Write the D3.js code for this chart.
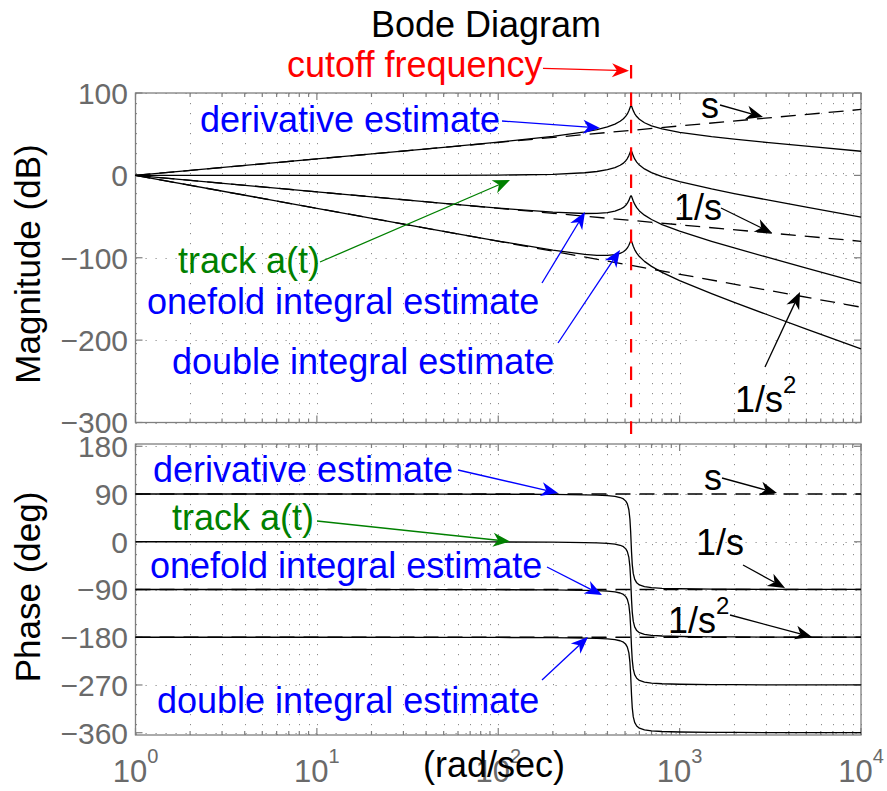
<!DOCTYPE html>
<html><head><meta charset="utf-8">
<script src="https://cdn.jsdelivr.net/npm/d3@7"></script>
<style>
body{margin:0;background:#fff}
svg{display:block}
text{font-family:"Liberation Sans",Arial,Helvetica,sans-serif}
</style>
</head><body>
<svg id="chart" width="887" height="791"></svg>
<script>
// ---------- data ----------
const freq = [1, 10, 50, 100, 200, 300, 350, 400, 440, 470, 490, 505, 515, 525, 532, 537, 540, 543, 548, 555, 565, 580, 600, 640, 700, 800, 1000, 1500, 2000, 3000, 5000, 10000];

const magDerivative = [0, 20, 34.1, 40.3, 47.3, 52.7, 55.6, 58.9, 62.3, 65.7, 68.7, 71.9, 74.6, 78.4, 81.8, 84.1, 84.6, 84.1, 81.9, 78.6, 75.0, 71.4, 68.1, 63.9, 60.2, 56.5, 52.3, 47.0, 43.9, 40.0, 35.4, 29.3];
const magTrack = [0, 0, 0.1, 0.3, 1.3, 3.2, 4.7, 6.9, 9.4, 12.3, 14.9, 17.8, 20.4, 24.0, 27.3, 29.5, 29.9, 29.4, 27.1, 23.7, 20.0, 16.1, 12.5, 7.8, 3.3, -1.6, -7.7, -16.5, -22.1, -29.5, -38.6, -50.7];
const magOnefold = [0, -20, -33.9, -39.7, -44.7, -46.3, -46.2, -45.1, -43.5, -41.1, -38.9, -36.3, -33.8, -30.4, -27.2, -25.1, -24.8, -25.3, -27.7, -31.2, -35.0, -39.2, -43.1, -48.3, -53.6, -59.7, -67.7, -80.0, -88.1, -99.0, -112.6, -130.7];
const magDouble = [0, -40, -67.9, -79.7, -90.7, -95.9, -97.1, -97.2, -96.3, -94.6, -92.7, -90.3, -88.1, -84.8, -81.7, -79.7, -79.4, -80.0, -82.5, -86.1, -90.1, -94.4, -98.6, -104.4, -110.5, -117.7, -127.7, -143.5, -154.1, -168.6, -186.6, -210.7];

const phaseDerivative = [90, 90, 89.8, 89.6, 89.2, 88.5, 87.9, 87.0, 85.6, 83.4, 80.7, 76.6, 71.4, 60.4, 43.0, 19.2, 0, -19.1, -42.6, -59.7, -70.5, -77.4, -81.4, -84.6, -86.5, -87.7, -88.6, -89.2, -89.5, -89.7, -89.8, -89.9];
const phaseTrack = [0, 0, -0.2, -0.4, -0.8, -1.5, -2.1, -3.0, -4.4, -6.6, -9.3, -13.4, -18.6, -29.6, -47.0, -70.8, -90, -109.1, -132.6, -149.7, -160.5, -167.4, -171.4, -174.6, -176.5, -177.7, -178.6, -179.2, -179.5, -179.7, -179.8, -179.9];
const phaseOnefold = [-90, -90, -90.2, -90.4, -90.8, -91.5, -92.1, -93.0, -94.4, -96.6, -99.3, -103.4, -108.6, -119.6, -137.0, -160.8, -180, -199.1, -222.6, -239.7, -250.5, -257.4, -261.4, -264.6, -266.5, -267.7, -268.6, -269.2, -269.5, -269.7, -269.8, -269.9];
const phaseDouble = [-180, -180, -180.2, -180.4, -180.8, -181.5, -182.1, -183.0, -184.4, -186.6, -189.3, -193.4, -198.6, -209.6, -227.0, -250.8, -270, -289.1, -312.6, -329.7, -340.5, -347.4, -351.4, -354.6, -356.5, -357.7, -358.6, -359.2, -359.5, -359.7, -359.8, -359.9];

// asymptotes (dashed)
const asymFreq = [1, 10000];
const magS = [0, 80];
const magInvS = [0, -80];
const magInvS2 = [0, -160];
const phaseS = [90, 90];
const phaseInvS = [-90, -90];
const phaseInvS2 = [-180, -180];

const cutoffFreq = 540;

const magTicks = [100, 0, -100, -200, -300];
const phaseTicks = [180, 90, 0, -90, -180, -270, -360];
const decadeTicks = [1, 10, 100, 1000, 10000];
const decadeExponents = ["0", "1", "2", "3", "4"];

// ---------- layout ----------
const svg = d3.select("#chart");
const W = 887, H = 791;
const left = 135.5, right = 861;
const magTop = 93, magBottom = 422.5;
const phTop = 444, phBottom = 735;

const x = d3.scaleLog().domain([1, 10000]).range([left, right]);
const yMag = d3.scaleLinear().domain([-300, 100]).range([magBottom, magTop]);
const yPh = d3.scaleLinear().domain([-364.3, 184.3]).range([phBottom, phTop]);

svg.append("rect").attr("width", W).attr("height", H).attr("fill", "#fff");

const minorTicks = [];
for (let d = 0; d < 4; d++) for (let m = 2; m <= 9; m++) minorTicks.push(m * Math.pow(10, d));

const gridColor = "#8c8c8c";
const boxColor = "#7f7f7f";
const tickLabelColor = "#6a6a6a";

function drawFrame(yScale, ticks, top, bottom) {
  const g = svg.append("g");
  const grid = g.append("g").attr("stroke", gridColor).attr("stroke-width", 1)
    .attr("stroke-dasharray", "1.2,8.8").attr("fill", "none");
  grid.selectAll("line.v").data(decadeTicks.concat(minorTicks)).join("line")
    .attr("x1", d => Math.round(x(d)) + 0.5).attr("x2", d => Math.round(x(d)) + 0.5)
    .attr("y1", top).attr("y2", bottom);
  grid.selectAll("line.h").data(ticks).join("line")
    .attr("x1", left).attr("x2", right)
    .attr("y1", d => Math.round(yScale(d)) + 0.5).attr("y2", d => Math.round(yScale(d)) + 0.5);
  const tk = g.append("g").attr("stroke", boxColor).attr("stroke-width", 1.2);
  tk.selectAll("line.xt").data(decadeTicks).join("line")
    .attr("x1", d => x(d)).attr("x2", d => x(d)).attr("y1", bottom).attr("y2", bottom - 7);
  tk.selectAll("line.xt2").data(decadeTicks).join("line")
    .attr("x1", d => x(d)).attr("x2", d => x(d)).attr("y1", top).attr("y2", top + 7);
  tk.selectAll("line.xm").data(minorTicks).join("line")
    .attr("x1", d => x(d)).attr("x2", d => x(d)).attr("y1", bottom).attr("y2", bottom - 4);
  tk.selectAll("line.xm2").data(minorTicks).join("line")
    .attr("x1", d => x(d)).attr("x2", d => x(d)).attr("y1", top).attr("y2", top + 4);
  tk.selectAll("line.yl").data(ticks).join("line")
    .attr("x1", left).attr("x2", left + 7).attr("y1", d => yScale(d)).attr("y2", d => yScale(d));
  tk.selectAll("line.yr").data(ticks).join("line")
    .attr("x1", right).attr("x2", right - 7).attr("y1", d => yScale(d)).attr("y2", d => yScale(d));
  g.append("rect").attr("x", left).attr("y", top).attr("width", right - left).attr("height", bottom - top)
    .attr("fill", "none").attr("stroke", boxColor).attr("stroke-width", 1.3);
  g.append("g").selectAll("text").data(ticks).join("text")
    .attr("x", 128).attr("y", d => yScale(d)).attr("dy", "0.36em")
    .attr("text-anchor", "end").attr("font-size", 30).attr("fill", tickLabelColor)
    .text(d => d < 0 ? "\u2212" + Math.abs(d) : String(d));
}

drawFrame(yMag, magTicks, magTop, magBottom);
drawFrame(yPh, phaseTicks, phTop, phBottom);

const xl = svg.append("g").attr("fill", tickLabelColor);
decadeTicks.forEach((d, i) => {
  const t = xl.append("text").attr("x", x(d)).attr("y", 782).attr("text-anchor", "middle").attr("font-size", 31);
  t.append("tspan").text("10");
  t.append("tspan").attr("dy", -19).attr("font-size", 20).text(decadeExponents[i]);
});

// ---------- curves ----------
function curve(xs, ys, yScale, dashed) {
  const pts = xs.map((f, i) => [x(f), yScale(ys[i])]);
  svg.append("path").attr("d", d3.line()(pts)).attr("fill", "none").attr("stroke", "#000")
    .attr("stroke-width", 1.3).attr("stroke-linejoin", "round")
    .attr("stroke-dasharray", dashed ? "15,9" : null);
}
[magDerivative, magTrack, magOnefold, magDouble].forEach(s => curve(freq, s, yMag, false));
[phaseDerivative, phaseTrack, phaseOnefold, phaseDouble].forEach(s => curve(freq, s, yPh, false));
[magS, magInvS, magInvS2].forEach(s => curve(asymFreq, s, yMag, true));
[phaseS, phaseInvS, phaseInvS2].forEach(s => curve(asymFreq, s, yPh, true));

svg.append("line").attr("x1", x(cutoffFreq)).attr("x2", x(cutoffFreq)).attr("y1", 65).attr("y2", 434)
  .attr("stroke", "#ff0000").attr("stroke-width", 2.2).attr("stroke-dasharray", "13.5,13.9");

// ---------- text ----------
function label(txt, xx, yy, color, opts = {}) {
  const t = svg.append("text").attr("x", xx).attr("y", yy).attr("fill", color)
    .attr("font-size", opts.size || 36).attr("text-anchor", opts.anchor || "start");
  if (opts.rotate) t.attr("transform", `rotate(-90,${xx},${yy})`);
  t.append("tspan").text(txt);
  if (opts.sup) t.append("tspan").attr("dy", -19).attr("font-size", 24).text(opts.sup);
  return t;
}
label("Bode Diagram", 486, 37, "#000", {anchor: "middle"});
label("cutoff frequency", 287, 77, "#ff0000");
label("Magnitude (dB)", 40, 264, "#000", {anchor: "middle", rotate: true, size: 35});
label("Phase (deg)", 40, 587, "#000", {anchor: "middle", rotate: true, size: 35});
label("(rad/sec)", 494, 777, "#000", {anchor: "middle"});

const blue = "#0000ff", green = "#008000", red = "#ff0000";
label("derivative estimate", 200, 132, blue);
label("track a(t)", 178, 273, green);
label("onefold integral estimate", 147, 314, blue);
label("double integral estimate", 172, 374, blue);
label("s", 701, 118, "#000");
label("1/s", 674, 220, "#000");
label("1/s", 735, 412, "#000", {sup: "2"});

label("derivative estimate", 153, 482, blue);
label("track a(t)", 172, 530, green);
label("onefold integral estimate", 150, 578, blue);
label("double integral estimate", 157, 713, blue);
label("s", 704, 490, "#000");
label("1/s", 696, 555, "#000");
label("1/s", 668, 633, "#000", {sup: "2"});

// ---------- arrows ----------
function arrow(x1, y1, x2, y2, color) {
  const a = Math.atan2(y2 - y1, x2 - x1);
  const L = 17, Wd = 7, N = 5;
  const ex = x2 - Math.cos(a) * (L - N), ey = y2 - Math.sin(a) * (L - N);
  svg.append("line").attr("x1", x1).attr("y1", y1).attr("x2", ex).attr("y2", ey)
    .attr("stroke", color).attr("stroke-width", 1.3);
  svg.append("path").attr("d", `M0,0L${-L},${-Wd}L${-L + N},0L${-L},${Wd}Z`)
    .attr("transform", `translate(${x2},${y2}) rotate(${a * 180 / Math.PI})`)
    .attr("fill", color);
}
arrow(543, 68.3, 629, 70.8, red);
arrow(502, 121, 600, 128, blue);
arrow(320, 262, 510, 180, green);
arrow(542, 283, 585, 212, blue);
arrow(558, 343, 620, 250, blue);
arrow(720, 105, 763, 117, "#000");
arrow(721, 208, 772, 233, "#000");
arrow(765, 367, 800, 292, "#000");

arrow(458, 470, 558, 493, blue);
arrow(317, 521, 510, 541.5, green);
arrow(547, 567, 602, 595, blue);
arrow(542, 680, 588, 637, blue);
arrow(722, 478, 777, 493, "#000");
arrow(743, 565, 785, 588, "#000");
arrow(730, 615, 812, 637, "#000");
</script>
</body></html>
